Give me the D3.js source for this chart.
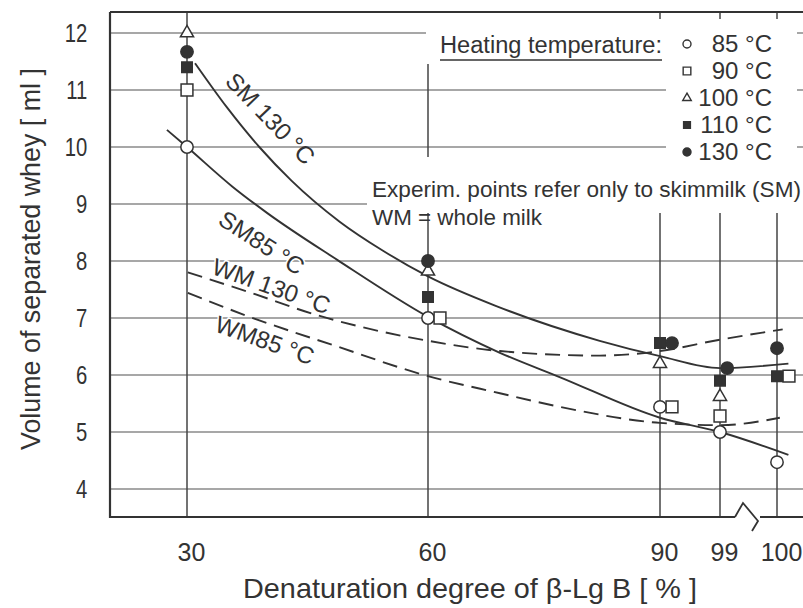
<!DOCTYPE html>
<html>
<head>
<meta charset="utf-8">
<script src="https://cdn.jsdelivr.net/npm/d3@7"></script>
<style>
  body { margin: 0; background: #fff; }
  svg { display: block; font-family: "Liberation Sans", Arial, sans-serif; }
</style>
</head>
<body>
<svg id="chart" width="803" height="608"></svg>
<script>
// ---- data -------------------------------------------------------------
const xTicks = [30, 60, 90, 99, 100];          // denaturation degree of β-Lg B [%]
const yTicks = [4, 5, 6, 7, 8, 9, 10, 11, 12];  // volume of separated whey [ml]
const temps = ["85 °C", "90 °C", "100 °C", "110 °C", "130 °C"];

// experimental points (skimmilk), [degree, volume]
const pts85  = [[30, 10.0], [60, 7.0], [90, 5.44], [99, 5.0], [100, 4.47]];
const pts90  = [[30, 11.0], [60, 7.0], [90, 5.44], [99, 5.28], [100, 5.98]];
const pts100 = [[30, 12.0], [60, 7.82], [90, 6.2], [99, 5.62]];
const pts110 = [[30, 11.4], [60, 7.37], [90, 6.56], [99, 5.9], [100, 5.98]];
const pts130 = [[30, 11.67], [60, 8.0], [90, 6.56], [99, 6.12], [100, 6.47]];

// fitted curves, [degree, volume]
const curveSM130 = [[31.0, 11.47], [35.0, 10.69], [39.0, 10.0], [43.0, 9.41], [49.0, 8.69],
                    [54.4, 8.18], [60, 7.73], [69, 7.2], [82.2, 6.6], [90, 6.33], [99, 6.12], [100.2, 6.2]];
const curveSM85  = [[27.5, 10.3], [30, 10.0], [35.7, 9.3], [40.0, 8.84], [48.7, 8.02], [60, 7.02],
                    [69.3, 6.39], [77.1, 5.96], [90, 5.25], [99, 5.0], [100.2, 4.6]];
const curveWM130 = [[30.1, 7.8], [37.8, 7.45], [46.2, 7.05], [53, 6.8], [60, 6.6], [69.3, 6.42],
                    [82.2, 6.34], [90, 6.42], [99, 6.62], [100.1, 6.8]];
const curveWM85  = [[30.1, 7.44], [37.8, 7.02], [48.7, 6.5], [60, 5.98], [69.3, 5.68], [77.1, 5.44],
                    [90, 5.16], [99, 5.12], [100.05, 5.25]];

const curveNames = ["SM 130 °C", "SM85 °C", "WM 130 °C", "WM85 °C"];

// ---- styling ----------------------------------------------------------
const ink = "#333";
const markerStyle = {
  "85 °C":  { type: d3.symbolCircle,   size: 120, filled: false },
  "90 °C":  { type: d3.symbolSquare,   size: 140, filled: false },
  "100 °C": { type: d3.symbolTriangle, size: 75,  filled: false },
  "110 °C": { type: d3.symbolSquare,   size: 110, filled: true },
  "130 °C": { type: d3.symbolCircle,   size: 120, filled: true }
};
// side-by-side nudges (in marker widths) where points coincide
const nudge = { "90 °C": { 60: 1, 90: 1, 100: 1 }, "130 °C": { 90: 1, 99: 0.6 } };
const nudgePx = 12;

const curveStyle = {
  "SM 130 °C": { dash: null,   labelAt: [40.4, 10.5], angle: 46,   halo: 0 },
  "SM85 °C":   { dash: null,   labelAt: [39.3, 8.32], angle: 33,   halo: 3 },
  "WM 130 °C": { dash: "15,8", labelAt: [40.5, 7.56], angle: 19.5, halo: 3 },
  "WM85 °C":   { dash: "15,8", labelAt: [39.7, 6.61], angle: 19.5, halo: 3 }
};

// ---- layout -----------------------------------------------------------
const svg = d3.select("#chart");
const frame = { left: 110, top: 12, right: 803, bottom: 517 };
const noteBottom = 213;

const x = d3.scaleLinear().domain(xTicks).range([187, 428, 660, 720, 777]);
const y = d3.scaleLinear().domain([4, 12]).range([489, 33]);

// grid
const grid = svg.append("g");
grid.selectAll("line.h").data(yTicks).join("line")
  .attr("x1", frame.left).attr("x2", frame.right)
  .attr("y1", d => y(d)).attr("y2", d => y(d))
  .attr("stroke", "#8a8a8a").attr("stroke-width", 1.3);
grid.selectAll("line.v").data(xTicks).join("line")
  .attr("x1", d => x(d)).attr("x2", d => x(d))
  .attr("y1", d => d > 60 ? noteBottom : frame.top).attr("y2", frame.bottom)
  .attr("stroke", "#444").attr("stroke-width", 1.5);

// white panels behind legend and note
const panels = [
  { x: 426, y: 13, w: 240, h: 51 },
  { x: 666, y: 13, w: 131, h: 153 },
  { x: 367, y: 157, w: 436, h: noteBottom - 157 }
];
svg.append("g").selectAll("rect").data(panels).join("rect")
  .attr("x", d => d.x).attr("y", d => d.y).attr("width", d => d.w).attr("height", d => d.h)
  .attr("fill", "#fff");

// short top ticks above the legend
svg.append("g").selectAll("line").data(xTicks.filter(d => d > 60)).join("line")
  .attr("x1", d => x(d)).attr("x2", d => x(d))
  .attr("y1", frame.top).attr("y2", frame.top + 7)
  .attr("stroke", "#444").attr("stroke-width", 1.5);

// curve labels (drawn under the curves so halos only clear grid lines)
svg.append("g").selectAll("text").data(curveNames).join("text")
  .attr("transform", d => {
    const s = curveStyle[d];
    return `translate(${x(s.labelAt[0])},${y(s.labelAt[1])}) rotate(${s.angle})`;
  })
  .attr("text-anchor", "middle")
  .attr("dy", "0.35em")
  .attr("font-size", 24)
  .attr("fill", ink)
  .attr("stroke", "#fff").attr("stroke-width", d => curveStyle[d].halo).attr("paint-order", "stroke")
  .text(d => d);

// curves
const line = d3.line().x(d => x(d[0])).y(d => y(d[1])).curve(d3.curveMonotoneX);
const curves = [curveSM130, curveSM85, curveWM130, curveWM85];
svg.append("g").selectAll("path").data(curves).join("path")
  .attr("d", line)
  .attr("fill", "none")
  .attr("stroke", ink)
  .attr("stroke-width", 1.9)
  .attr("stroke-dasharray", (d, i) => curveStyle[curveNames[i]].dash);

// markers
const seriesPts = [pts85, pts90, pts100, pts110, pts130];
const markers = svg.append("g");
temps.forEach((t, i) => {
  const st = markerStyle[t];
  const sym = d3.symbol().type(st.type).size(st.size);
  markers.selectAll(null).data(seriesPts[i]).join("path")
    .attr("transform", d => {
      const n = (nudge[t] && nudge[t][d[0]]) || 0;
      return `translate(${x(d[0]) + n * nudgePx},${y(d[1])})`;
    })
    .attr("d", sym)
    .attr("fill", st.filled ? ink : "#fff")
    .attr("stroke", ink)
    .attr("stroke-width", 1.5);
});

// legend
const legend = svg.append("g");
legend.append("text")
  .attr("x", 440).attr("y", 53)
  .attr("font-size", 23).attr("fill", ink)
  .attr("textLength", 222).attr("lengthAdjust", "spacingAndGlyphs")
  .text("Heating temperature:");
legend.append("line")
  .attr("x1", 440).attr("x2", 662).attr("y1", 60).attr("y2", 60)
  .attr("stroke", ink).attr("stroke-width", 1.6);
const rowY = i => 44 + i * 27;
temps.forEach((t, i) => {
  const st = markerStyle[t];
  legend.append("path")
    .attr("transform", `translate(687,${rowY(i)})`)
    .attr("d", d3.symbol().type(st.type).size(st.size * 0.42)())
    .attr("fill", st.filled ? ink : "#fff")
    .attr("stroke", ink).attr("stroke-width", 1.4);
  legend.append("text")
    .attr("x", 772).attr("y", rowY(i) + 8)
    .attr("text-anchor", "end")
    .attr("font-size", 24).attr("fill", ink)
    .text(t);
});

// note
const note = svg.append("g").attr("font-size", 22.5).attr("fill", ink);
note.append("text").attr("x", 372).attr("y", 197)
  .attr("textLength", 429).attr("lengthAdjust", "spacingAndGlyphs")
  .text("Experim. points refer only to skimmilk (SM)");
note.append("text").attr("x", 372).attr("y", 225)
  .attr("textLength", 170).attr("lengthAdjust", "spacingAndGlyphs")
  .text("WM = whole milk");

// axes (labels only)
const yAxis = svg.append("g")
  .attr("transform", `translate(${frame.left},0)`)
  .call(d3.axisLeft(y).tickValues(yTicks).tickSize(0).tickPadding(29).tickFormat(d3.format("d")));
yAxis.select(".domain").remove();
yAxis.selectAll("text")
  .attr("font-size", 26).attr("font-family", "Liberation Sans, Arial, sans-serif")
  .attr("fill", ink).attr("transform", "scale(0.78,1)");

const xAxis = svg.append("g")
  .attr("transform", `translate(0,${frame.bottom})`)
  .call(d3.axisBottom(x).tickValues(xTicks).tickSize(0).tickPadding(26).tickFormat(d3.format("d")));
xAxis.select(".domain").remove();
xAxis.selectAll("text")
  .attr("font-size", 25).attr("font-family", "Liberation Sans, Arial, sans-serif")
  .attr("fill", ink).attr("dx", 4);

// frame with axis break
const brk = [735, 760];
svg.append("path")
  .attr("d", `M${frame.left},${frame.top}H${frame.right}` +
             `M${frame.left},${frame.top}V${frame.bottom}H${brk[0]}` +
             `M${brk[1]},${frame.bottom}H${frame.right}`)
  .attr("fill", "none").attr("stroke", "#333").attr("stroke-width", 2.2);
svg.append("path")
  .attr("d", `M${brk[0]},${frame.bottom}L743,503L758,521L752,531`)
  .attr("fill", "none").attr("stroke", "#333").attr("stroke-width", 1.8);

// axis titles
svg.append("text")
  .attr("x", 470).attr("y", 598)
  .attr("text-anchor", "middle")
  .attr("font-size", 28).attr("fill", ink)
  .attr("textLength", 454).attr("lengthAdjust", "spacingAndGlyphs")
  .text("Denaturation degree of β-Lg B [ % ]");
svg.append("text")
  .attr("transform", "translate(40,259) rotate(-90)")
  .attr("text-anchor", "middle")
  .attr("font-size", 27).attr("fill", ink)
  .attr("textLength", 382).attr("lengthAdjust", "spacingAndGlyphs")
  .text("Volume of separated whey [ ml ]");
</script>
</body>
</html>
